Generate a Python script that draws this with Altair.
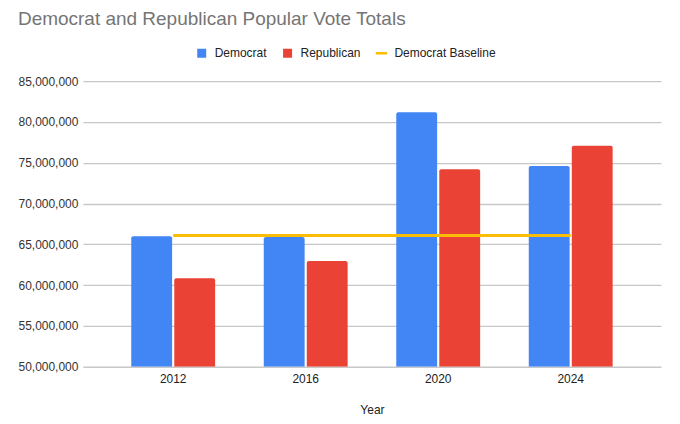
import altair as alt
import pandas as pd

years = ["2012", "2016", "2020", "2024"]
democrat = [66000000, 65900000, 81200000, 74600000]
republican = [60850000, 62950000, 74200000, 77100000]
baseline = [66100000, 66100000, 66100000, 66100000]

series_names = ["Democrat", "Republican", "Democrat Baseline"]
series_colors = ["#4285F4", "#EA4335", "#FBBC04"]
series_shapes = ["M-1,-1H1V1H-1Z", "M-1,-1H1V1H-1Z", "M-1.25,-0.28H1.25V0.28H-1.25Z"]

rows = []
for i, y in enumerate(years):
    rows.append({"year": y, "series": "Democrat", "votes": democrat[i]})
    rows.append({"year": y, "series": "Republican", "votes": republican[i]})
    rows.append({"year": y, "series": "Democrat Baseline", "votes": baseline[i]})
df = pd.DataFrame(rows)

FONT = "Liberation Sans"

x_enc = alt.X(
    "year:N",
    sort=years,
    scale=alt.Scale(paddingInner=0.367, paddingOuter=0.365),
    axis=alt.Axis(
        title="Year", labelAngle=0, domain=False, ticks=False, grid=False,
        labelFontSize=12, labelColor="#222222", labelPadding=7,
        titleFontSize=12, titleFontWeight="normal", titleColor="#222222",
        titlePadding=20, labelFont=FONT, titleFont=FONT,
    ),
)
y_enc = alt.Y(
    "votes:Q",
    scale=alt.Scale(domain=[50000000, 85000000], nice=False, zero=False),
    axis=alt.Axis(
        title=None, values=[50000000, 55000000, 60000000, 65000000, 70000000, 75000000, 80000000, 85000000],
        format=",d", domain=False, ticks=False, labelFontSize=12, labelColor="#333333",
        labelPadding=5, gridColor="#c8c8c8", gridWidth=1.3, labelFont=FONT,
    ),
)

legend = alt.Legend(
    title=None, orient="none", direction="horizontal", legendX=113, legendY=-34,
    labelFontSize=12, labelColor="#222222", labelFont=FONT, symbolSize=81,
    symbolOpacity=1, symbolStrokeWidth=0, labelOffset=7, columnPadding=14,
)
color_enc = alt.Color(
    "series:N",
    scale=alt.Scale(domain=series_names, range=series_colors),
    legend=legend,
)
shape_enc = alt.Shape(
    "series:N",
    scale=alt.Scale(domain=series_names, range=series_shapes),
    legend=legend,
)

base = alt.Chart(df)

bars = base.transform_filter(
    alt.FieldOneOfPredicate(field="series", oneOf=["Democrat", "Republican"])
).mark_bar(cornerRadiusTopLeft=2, cornerRadiusTopRight=2, clip=True).encode(
    x=x_enc,
    xOffset=alt.XOffset("series:N", sort=["Democrat", "Republican"],
                        scale=alt.Scale(paddingInner=0.05)),
    y=y_enc,
    y2=alt.Y2(datum=50000000),
    color=color_enc,
)

line = base.transform_filter(
    alt.FieldEqualPredicate(field="series", equal="Democrat Baseline")
).mark_line(strokeWidth=3).encode(
    x=x_enc, y=y_enc, color=color_enc,
)

points = base.mark_point(filled=True, opacity=0).encode(
    x=x_enc, y=y_enc, color=color_enc, shape=shape_enc,
)

chart = alt.layer(bars, line, points).properties(
    width=579,
    height=286,
    background="white",
    padding={"left": 9, "top": 2, "right": 11, "bottom": 2},
    title=alt.TitleParams(
        "Democrat and Republican Popular Vote Totals",
        anchor="start", fontSize=19, fontWeight="normal", color="#757575",
        font=FONT, offset=18,
    ),
).configure_view(stroke=None)

chart.save("out.html", embed_options={"renderer": "svg", "actions": False})
